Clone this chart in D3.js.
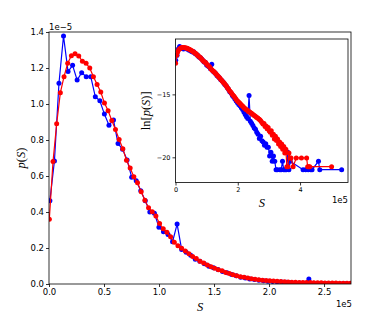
<!DOCTYPE html>
<html>
<head>
<meta charset="utf-8">
<script src="https://cdn.jsdelivr.net/npm/d3@7"></script>
<style>
  body { margin: 0; background: #fff; }
  .tick text { font-family: "DejaVu Sans", sans-serif; fill: #000; }
  .math { font-family: "Liberation Serif", "DejaVu Serif", serif; fill: #000; }
</style>
</head>
<body>
<div id="chart"></div>
<script>
/* p(S) distribution, two samples (blue, red) + inset with ln p(S) */

// bin centres S and p(S) in units of 1e-5
const redS = [300, 3640, 6980, 10320, 13660, 17000, 20340, 23680, 27020, 30360,
  33700, 37040, 40380, 43720, 47060, 50400, 53740, 57080, 60420, 63760,
  67100, 70440, 73780, 77120, 80460, 83800, 87140, 90480, 93820, 97160,
  100500, 103840, 107180, 110520, 113860, 117200, 120540, 123880, 127220, 130560,
  133900, 137240, 140580, 143920, 147260, 150600, 153940, 157280, 160620, 163960,
  167300, 170640, 173980, 177320, 180660, 184000, 187340, 190680, 194020, 197360,
  200700, 204040, 207380, 210720, 214060, 217400, 220740, 224080, 227420, 230760,
  234100, 237440, 240780, 244120, 247460, 250800, 254140, 257480, 260820, 264160,
  267500, 270840, 274180, 277520, 280860, 284200, 287540, 290880, 294220, 297560,
  300900, 304240, 307580, 310920, 314260, 317600, 320940, 324280, 327620, 330960,
  334300, 337640, 340980, 344320, 347660, 351000, 354340, 357680, 361020, 364360,
  367700, 371040, 377720, 387740, 404440, 421140, 424480, 427820, 431160, 501300];
const redP = [0.36, 0.68, 0.89, 1.063, 1.152, 1.226, 1.268, 1.279, 1.267, 1.237,
  1.226, 1.200, 1.152, 1.109, 1.067, 1.005, 0.962, 0.908, 0.858, 0.803,
  0.752, 0.688, 0.645, 0.596, 0.562, 0.512, 0.465, 0.424, 0.402, 0.378,
  0.336, 0.307, 0.287, 0.262, 0.232, 0.212, 0.198, 0.184, 0.168, 0.153,
  0.141, 0.127, 0.116, 0.106, 0.096, 0.087, 0.079, 0.073, 0.064, 0.058,
  0.051, 0.046, 0.040, 0.037, 0.033, 0.029, 0.027, 0.024, 0.021, 0.019,
  0.0175, 0.0160, 0.0148, 0.0135, 0.0124, 0.0115, 0.0104, 0.0098, 0.0090, 0.0086,
  0.0079, 0.0077, 0.0071, 0.0068, 0.0063, 0.0060, 0.0056, 0.0053, 0.0049, 0.0047,
  0.0043, 0.0041, 0.0037, 0.0033, 0.0029, 0.0030, 0.0024, 0.0025, 0.0020, 0.0022,
  0.0017, 0.0015, 0.0017, 0.0012, 0.0013, 0.00088, 0.0011, 0.00078, 0.00088, 0.00059,
  0.00069, 0.00049, 0.00059, 0.00039, 0.00049, 0.00029, 0.00039, 0.000098, 0.000098, 0.00029,
  0.000196, 0.000196, 0.000098, 0.000196, 0.000196, 0.000196, 0.000098, 0.000098, 0.000098, 0.000098];

const blueS = [800, 4930, 9060, 13190, 17320, 21450, 25580, 29710, 33840, 37970,
  42100, 46230, 50360, 54490, 58620, 62750, 66880, 71010, 75140, 79270,
  83400, 87530, 91660, 95790, 99920, 104050, 108180, 112310, 116440, 120570,
  124700, 128830, 132960, 137090, 141220, 145350, 149480, 153610, 157740, 161870,
  166000, 170130, 174260, 178390, 182520, 186650, 190780, 194910, 199040, 203170,
  207300, 211430, 215560, 219690, 223820, 227950, 232080, 236210, 240340, 244470,
  248600, 252730, 256860, 260990, 265120, 269250, 273380, 277510, 281640, 285770,
  289900, 294030, 298160, 302290, 306420, 310550, 314680, 318810, 322940, 327070,
  335330, 339460, 343590, 347720, 351850, 355980, 360110, 364240, 368370,
  409670, 417930, 426190, 434450, 438580, 459230, 463360, 533570];
const blueP = [0.463, 0.683, 1.115, 1.378, 1.180, 1.215, 1.133, 1.174, 1.152, 1.152,
  1.040, 1.018, 0.944, 0.882, 0.911, 0.781, 0.748, 0.689, 0.593, 0.574,
  0.518, 0.463, 0.400, 0.393, 0.315, 0.290, 0.275, 0.235, 0.333, 0.192,
  0.176, 0.160, 0.137, 0.127, 0.112, 0.098, 0.090, 0.081, 0.069, 0.062,
  0.053, 0.046, 0.038, 0.034, 0.028, 0.025, 0.021, 0.018, 0.0158, 0.0138,
  0.0125, 0.0105, 0.0092, 0.0076, 0.0062, 0.0052, 0.0045, 0.0280, 0.0036, 0.0031,
  0.0026, 0.0021, 0.0019, 0.0015, 0.0013, 0.00092, 0.0011, 0.00077, 0.00069, 0.00054,
  0.00061, 0.00046, 0.00046, 0.00023, 0.00031, 0.00015, 0.00023, 0.00015, 0.000077, 0.000077,
  0.000077, 0.000077, 0.00015, 0.000077, 0.000077, 0.000077, 0.00031, 0.000077, 0.00015,
  0.000077, 0.000077, 0.000077, 0.000077, 0.000077, 0.00015, 0.000077, 0.000077];

const mainXTicks = [0, 50000, 100000, 150000, 200000, 250000];
const mainYTicks = [0, 0.2, 0.4, 0.6, 0.8, 1.0, 1.2, 1.4];
const insetXTicks = [0, 200000, 400000];
const insetYTicks = [-20, -15];

const width = 390, height = 325;
const m = { left: 49, right: 351, top: 32, bottom: 284 };      // main axes box
const ins = { left: 175.5, right: 348, top: 39, bottom: 182.5 }; // inset axes box

const svg = d3.select("#chart")
  .append("svg")
  .attr("width", width)
  .attr("height", height)
  .attr("viewBox", [0, 0, width, height]);

const red = d3.zip(redS, redP).map(([s, p]) => ({ s, p }));
const blue = d3.zip(blueS, blueP).map(([s, p]) => ({ s, p }));

/* line + dot markers for one series */
function drawSeries(g, data, color, xs, ys) {
  g.append("path")
    .datum(data)
    .attr("d", d3.line().x(d => xs(d.s)).y(ys))
    .attr("fill", "none")
    .attr("stroke", color)
    .attr("stroke-width", 1.2);
  g.selectAll(null)
    .data(data)
    .join("circle")
    .attr("cx", d => xs(d.s))
    .attr("cy", ys)
    .attr("r", 2.5)
    .attr("fill", color);
}

/* ticks out, no domain line, small labels */
function styleAxis(g, size) {
  g.select(".domain").remove();
  g.selectAll("text").attr("font-size", size).attr("font-family", null);
  g.selectAll("line").attr("stroke-width", 0.8);
}

/* ---------- main plot ---------- */
let x = d3.scaleLinear().domain([0, 274500]).range([m.left, m.right]);
let y = d3.scaleLinear().domain([0, 1.4]).range([m.bottom, m.top]);

svg.append("clipPath").attr("id", "clipMain")
  .append("rect")
  .attr("x", m.left).attr("y", m.top)
  .attr("width", m.right - m.left).attr("height", m.bottom - m.top);

const gMain = svg.append("g").attr("clip-path", "url(#clipMain)");
drawSeries(gMain, blue, "#0000ff", x, d => y(d.p));
drawSeries(gMain, red, "#ff0000", x, d => y(d.p));

svg.append("g")
  .attr("transform", `translate(0,${m.bottom})`)
  .call(d3.axisBottom(x).tickValues(mainXTicks).tickFormat(d => (d / 1e5).toFixed(1))
    .tickSize(3).tickPadding(2).tickSizeOuter(0))
  .call(styleAxis, 8.5);

svg.append("g")
  .attr("transform", `translate(${m.left},0)`)
  .call(d3.axisLeft(y).tickValues(mainYTicks).tickFormat(d3.format(".1f"))
    .tickSize(3).tickPadding(2).tickSizeOuter(0))
  .call(styleAxis, 8.5);

svg.append("rect")
  .attr("x", m.left).attr("y", m.top)
  .attr("width", m.right - m.left).attr("height", m.bottom - m.top)
  .attr("fill", "none").attr("stroke", "#000").attr("stroke-width", 0.8);

// offset texts
svg.append("text").attr("x", m.left).attr("y", 29.5)
  .attr("font-family", "DejaVu Sans").attr("font-size", 8.5).text("1e\u22125");
svg.append("text").attr("x", m.right + 1).attr("y", 306.5).attr("text-anchor", "end")
  .attr("font-family", "DejaVu Sans").attr("font-size", 8.5).text("1e5");

// axis labels
svg.append("text").attr("class", "math")
  .attr("x", 200).attr("y", 310.5).attr("text-anchor", "middle")
  .attr("font-size", 12.5).attr("font-style", "italic").text("S");

let yl = svg.append("text").attr("class", "math")
  .attr("transform", "translate(25,158) rotate(-90)")
  .attr("text-anchor", "middle").attr("font-size", 12.5);
yl.append("tspan").attr("font-style", "italic").text("p");
yl.append("tspan").text("(");
yl.append("tspan").attr("font-style", "italic").text("S");
yl.append("tspan").text(")");

/* ---------- inset ---------- */
let xi = d3.scaleLinear().domain([0, 554000]).range([ins.left, ins.right]);
let yi = d3.scaleLinear().domain([-22, -10.6]).range([ins.bottom, ins.top]);
const lnp = d => yi(Math.log(d.p * 1e-5));

svg.append("rect")
  .attr("x", ins.left).attr("y", ins.top)
  .attr("width", ins.right - ins.left).attr("height", ins.bottom - ins.top)
  .attr("fill", "#fff");

svg.append("clipPath").attr("id", "clipInset")
  .append("rect")
  .attr("x", ins.left).attr("y", ins.top)
  .attr("width", ins.right - ins.left).attr("height", ins.bottom - ins.top);

const gIn = svg.append("g").attr("clip-path", "url(#clipInset)");
drawSeries(gIn, blue, "#0000ff", xi, lnp);
drawSeries(gIn, red, "#ff0000", xi, lnp);

svg.append("g")
  .attr("transform", `translate(0,${ins.bottom})`)
  .call(d3.axisBottom(xi).tickValues(insetXTicks).tickFormat(d => d / 1e5)
    .tickSize(3).tickPadding(2).tickSizeOuter(0))
  .call(styleAxis, 6.5);

svg.append("g")
  .attr("transform", `translate(${ins.left},0)`)
  .call(d3.axisLeft(yi).tickValues(insetYTicks).tickFormat(d3.format("d"))
    .tickSize(3).tickPadding(2).tickSizeOuter(0))
  .call(styleAxis, 6.5);

svg.append("rect")
  .attr("x", ins.left).attr("y", ins.top)
  .attr("width", ins.right - ins.left).attr("height", ins.bottom - ins.top)
  .attr("fill", "none").attr("stroke", "#000").attr("stroke-width", 0.8);

svg.append("text").attr("x", ins.right).attr("y", 203).attr("text-anchor", "end")
  .attr("font-family", "DejaVu Sans").attr("font-size", 8.5).text("1e5");

svg.append("text").attr("class", "math")
  .attr("x", (ins.left + ins.right) / 2).attr("y", 206.5).attr("text-anchor", "middle")
  .attr("font-size", 12.5).attr("font-style", "italic").text("S");

let il = svg.append("text").attr("class", "math")
  .attr("transform", `translate(149.5,${(ins.top + ins.bottom) / 2}) rotate(-90)`)
  .attr("text-anchor", "middle").attr("font-size", 12.5);
il.append("tspan").text("ln[");
il.append("tspan").attr("font-style", "italic").text("p");
il.append("tspan").text("(");
il.append("tspan").attr("font-style", "italic").text("S");
il.append("tspan").text(")]");
</script>
</body>
</html>
